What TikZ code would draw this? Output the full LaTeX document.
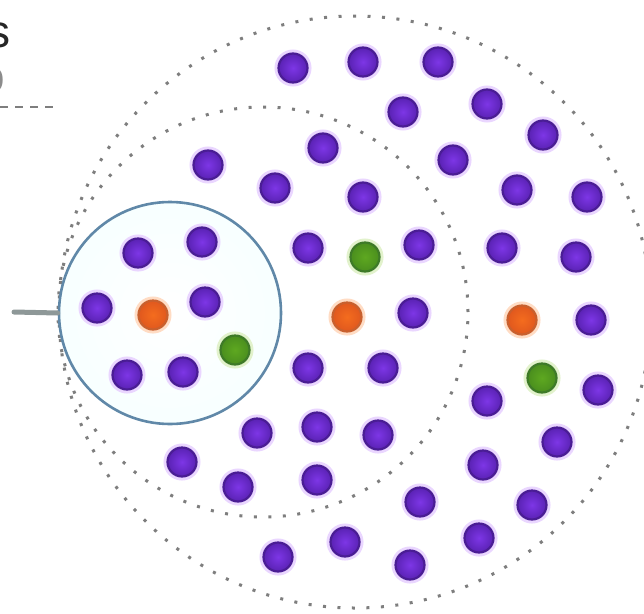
\documentclass[tikz,border=0pt]{standalone}
\usepackage{fontspec}
\setmainfont{Liberation Sans}
\definecolor{pin}{HTML}{7D36E6}
\definecolor{pout}{HTML}{5A22B4}
\definecolor{pedge}{HTML}{4A1D94}
\definecolor{phalo}{HTML}{EAD6FF}
\definecolor{oin}{HTML}{F46C1E}
\definecolor{oout}{HTML}{E0581E}
\definecolor{oedge}{HTML}{C8602E}
\definecolor{ohalo}{HTML}{FFDCC4}
\definecolor{gin}{HTML}{5EA820}
\definecolor{gout}{HTML}{4A8E1E}
\definecolor{gedge}{HTML}{3E7A28}
\definecolor{ghalo}{HTML}{E2F2CC}
\definecolor{ringblue}{HTML}{6088A8}
\definecolor{dotgray}{HTML}{7E7E7E}
\definecolor{lead}{HTML}{8E9898}
\begin{document}
\begin{tikzpicture}[x=1pt,y=-1pt,
  dotbase/.style={circle, inner sep=0pt, minimum size=29pt, line width=2.2pt, shading=radial},
  pdot/.style={dotbase, draw=pedge, inner color=pin, outer color=pout, preaction={draw=phalo, line width=8pt}},
  odot/.style={dotbase, draw=oedge, inner color=oin, outer color=oout, preaction={draw=ohalo, line width=8pt}},
  gdot/.style={dotbase, draw=gedge, inner color=gin, outer color=gout, preaction={draw=ghalo, line width=8pt}},
  dotring/.style={circle, draw=dotgray, line width=3pt, dash pattern=on 3pt off 11.5pt, inner sep=0pt},
  lbl/.style={font=\fontsize{46}{50}\selectfont, inner sep=0pt, anchor=base east, text=black!85}
]
\useasboundingbox (0,0) rectangle (644,613);
\fill[white] (0,0) rectangle (644,613);

% partial labels at the top left
\node[lbl] (t1) at (11,47) {s};
\node[lbl, text=black!45] (t2) at (5,92) {o};
\coordinate (d0) at (0,107);
\coordinate (d1) at (57,107);
\draw[dotgray, line width=2pt, dash pattern=on 8pt off 7pt] (d0) -- (d1);

% rings
\node[dotring, minimum size=592pt] (outer) at (355,312) {};
\node[dotring, minimum size=410pt] (inner) at (263,312) {};
\node[circle, draw=ringblue, line width=2.6pt, minimum size=222pt, inner sep=0pt,
      shading=radial, inner color=white, outer color=cyan!3] (focus) at (170,313) {};

% leader line
\coordinate (lead0) at (14,312);
\draw[lead, line width=5pt, line cap=round] (lead0) -- (focus.west);

% dots
\node[pdot] (p1) at (293,68) {};
\node[pdot] (p2) at (363,62) {};
\node[pdot] (p3) at (438,62) {};
\node[pdot] (p4) at (403,112) {};
\node[pdot] (p5) at (487,104) {};
\node[pdot] (p6) at (543,135) {};
\node[pdot] (p7) at (208,165) {};
\node[pdot] (p8) at (323,148) {};
\node[pdot] (p9) at (453,160) {};
\node[pdot] (p10) at (275,188) {};
\node[pdot] (p11) at (363,197) {};
\node[pdot] (p12) at (517,190) {};
\node[pdot] (p13) at (587,197) {};
\node[pdot] (p14) at (138,253) {};
\node[pdot] (p15) at (202,242) {};
\node[pdot] (p16) at (97,308) {};
\node[odot] (o17) at (153,315) {};
\node[pdot] (p18) at (205,302) {};
\node[gdot] (g19) at (235,350) {};
\node[pdot] (p20) at (127,375) {};
\node[pdot] (p21) at (183,372) {};
\node[pdot] (p22) at (308,248) {};
\node[gdot] (g23) at (365,257) {};
\node[pdot] (p24) at (419,245) {};
\node[pdot] (p25) at (502,248) {};
\node[pdot] (p26) at (576,257) {};
\node[odot] (o27) at (347,317) {};
\node[pdot] (p28) at (413,313) {};
\node[odot] (o29) at (522,320) {};
\node[pdot] (p30) at (591,320) {};
\node[pdot] (p31) at (308,368) {};
\node[pdot] (p32) at (383,368) {};
\node[gdot] (g33) at (542,378) {};
\node[pdot] (p34) at (598,390) {};
\node[pdot] (p35) at (487,401) {};
\node[pdot] (p36) at (257,433) {};
\node[pdot] (p37) at (317,427) {};
\node[pdot] (p38) at (378,435) {};
\node[pdot] (p39) at (557,442) {};
\node[pdot] (p40) at (182,462) {};
\node[pdot] (p41) at (238,487) {};
\node[pdot] (p42) at (317,480) {};
\node[pdot] (p43) at (483,465) {};
\node[pdot] (p44) at (420,502) {};
\node[pdot] (p45) at (532,505) {};
\node[pdot] (p46) at (278,557) {};
\node[pdot] (p47) at (345,542) {};
\node[pdot] (p48) at (410,565) {};
\node[pdot] (p49) at (479,538) {};
\end{tikzpicture}
\end{document}
